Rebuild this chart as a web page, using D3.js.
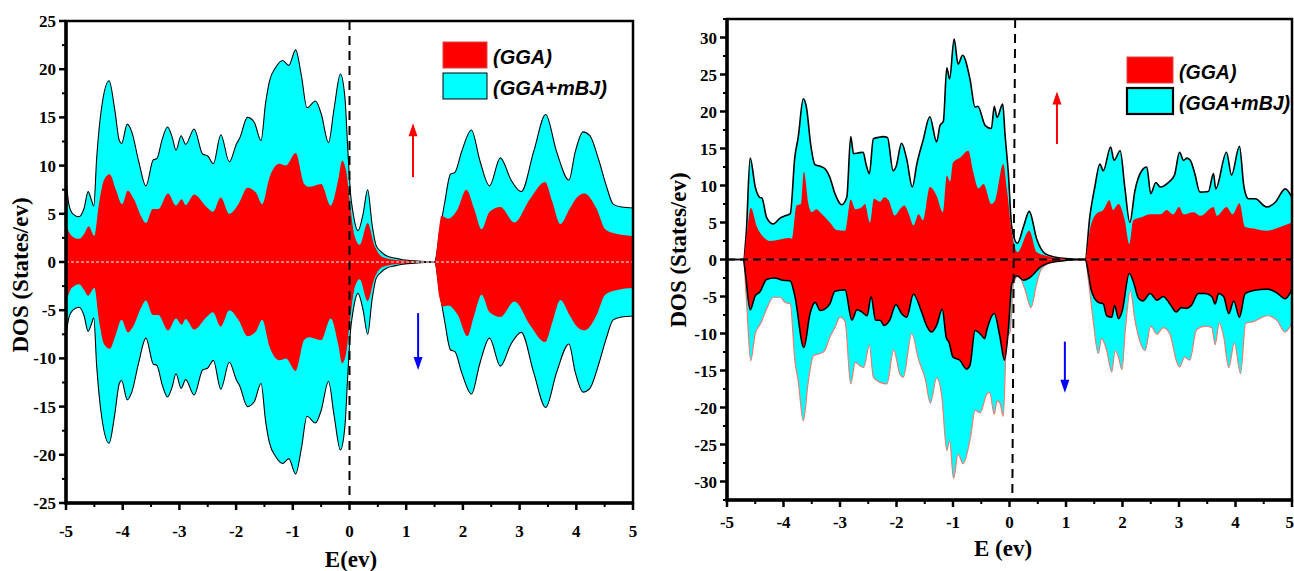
<!DOCTYPE html>
<html>
<head>
<meta charset="utf-8">
<script src="https://cdn.jsdelivr.net/npm/d3@7"></script>
<style>
  html, body { margin: 0; padding: 0; background: #fff; }
  svg { display: block; }
</style>
</head>
<body>
<svg id="chart" width="1294" height="571"></svg>
<script>
// ---------------- DATA ----------------
const xTicks = [-5, -4, -3, -2, -1, 0, 1, 2, 3, 4, 5];
const leftYTicks = [-25, -20, -15, -10, -5, 0, 5, 10, 15, 20, 25];
const rightYTicks = [-30, -25, -20, -15, -10, -5, 0, 5, 10, 15, 20, 25, 30];
const legendLabels = ["(GGA)", "(GGA+mBJ)"];

// Left panel: [E (eV), DOS]
const L_up_mBJ = [[-5,8.6],[-4.95,6.0],[-4.88,5.0],[-4.77,4.7],[-4.68,5.6],[-4.61,7.3],[-4.55,6.4],[-4.51,5.8],[-4.46,10.7],[-4.37,16.1],[-4.24,18.8],[-4.14,15.8],[-4.06,12.6],[-4.02,12.3],[-3.92,14.3],[-3.84,13.5],[-3.72,10.5],[-3.59,7.9],[-3.46,10.6],[-3.40,10.7],[-3.30,12.8],[-3.21,14.0],[-3.13,13.0],[-3.06,11.6],[-2.97,13.1],[-2.89,12.2],[-2.74,13.8],[-2.59,11.2],[-2.50,11.0],[-2.40,10.2],[-2.27,13.2],[-2.12,10.4],[-1.99,12.3],[-1.94,12.8],[-1.80,15.0],[-1.68,14.5],[-1.56,12.6],[-1.48,16.5],[-1.41,18.8],[-1.30,20.2],[-1.18,20.9],[-1.07,20.4],[-0.95,22.0],[-0.85,19.4],[-0.75,16.0],[-0.60,16.7],[-0.50,15.4],[-0.37,12.4],[-0.27,16.0],[-0.16,19.5],[-0.08,17.0],[-0.03,11.7],[0.02,7.0],[0.06,5.2],[0.15,3.25],[0.24,5.0],[0.32,7.5],[0.40,3.8],[0.47,1.7],[0.55,1.1],[0.65,0.65],[0.80,0.4],[0.94,0.24],[1.20,0.1],[1.41,0.03],[1.50,0],[1.59,3.1],[1.68,6.2],[1.78,9.1],[1.86,9.3],[1.98,11.5],[2.15,13.7],[2.30,10.5],[2.47,7.9],[2.66,10.8],[2.85,8.5],[3.03,7.3],[3.25,11.5],[3.46,15.3],[3.65,11.5],[3.87,8.5],[3.98,11.4],[4.12,13.5],[4.24,13.1],[4.40,10.5],[4.53,7.9],[4.65,6.0],[4.80,5.7],[5.0,5.6]];
const L_up_GGA = [[-5,3.8],[-4.9,2.7],[-4.77,2.4],[-4.68,2.9],[-4.60,3.7],[-4.50,2.7],[-4.42,6.0],[-4.33,8.5],[-4.23,9.1],[-4.12,7.5],[-4.01,6.0],[-3.91,7.4],[-3.80,6.5],[-3.68,4.8],[-3.59,4.05],[-3.47,5.5],[-3.37,5.5],[-3.20,7.1],[-3.06,5.85],[-2.96,6.5],[-2.89,5.9],[-2.74,7.0],[-2.52,5.7],[-2.41,5.2],[-2.27,6.7],[-2.12,5.0],[-1.95,6.1],[-1.80,7.7],[-1.65,7.2],[-1.54,6.0],[-1.41,8.8],[-1.24,10.2],[-1.12,10.0],[-0.95,11.3],[-0.80,8.1],[-0.71,7.8],[-0.50,8.1],[-0.33,5.85],[-0.20,8.5],[-0.13,10.5],[-0.06,9.5],[0.0,6.5],[0.09,2.7],[0.18,1.8],[0.32,4.05],[0.44,1.7],[0.59,0.5],[0.94,0.15],[1.50,0],[1.58,3.5],[1.62,4.8],[1.74,4.5],[1.91,5.5],[2.06,7.5],[2.20,5.5],[2.33,3.4],[2.47,5.2],[2.66,5.7],[2.91,4.1],[3.18,6.5],[3.45,8.3],[3.58,6.2],[3.72,3.95],[3.88,5.5],[4.01,6.7],[4.14,7.1],[4.36,5.5],[4.51,3.4],[4.72,2.9],[5.0,2.7]];
const L_dn_mBJ = [[-5,-7.7],[-4.95,-5.8],[-4.88,-5.0],[-4.77,-4.7],[-4.68,-5.6],[-4.61,-7.2],[-4.55,-6.4],[-4.51,-5.8],[-4.46,-10.7],[-4.37,-16.1],[-4.24,-18.8],[-4.14,-15.8],[-4.06,-12.6],[-4.02,-12.3],[-3.92,-14.3],[-3.84,-13.5],[-3.72,-10.5],[-3.59,-7.9],[-3.46,-10.6],[-3.40,-10.7],[-3.30,-12.8],[-3.21,-14.0],[-3.13,-13.0],[-3.06,-11.6],[-2.97,-13.1],[-2.89,-12.2],[-2.74,-13.8],[-2.59,-11.2],[-2.50,-11.0],[-2.40,-10.2],[-2.27,-13.2],[-2.12,-10.4],[-1.99,-12.3],[-1.94,-12.8],[-1.80,-15.0],[-1.68,-14.5],[-1.56,-12.6],[-1.48,-16.5],[-1.41,-18.8],[-1.30,-20.2],[-1.18,-20.9],[-1.07,-20.4],[-0.95,-22.0],[-0.85,-19.4],[-0.75,-16.0],[-0.60,-16.7],[-0.50,-15.4],[-0.37,-12.4],[-0.27,-16.0],[-0.16,-19.5],[-0.08,-17.0],[-0.03,-11.7],[0.02,-7.0],[0.06,-5.2],[0.15,-3.25],[0.24,-5.0],[0.32,-7.5],[0.40,-3.8],[0.47,-1.7],[0.55,-1.1],[0.65,-0.65],[0.80,-0.4],[0.94,-0.24],[1.20,-0.1],[1.41,-0.03],[1.50,0],[1.59,-3.1],[1.68,-6.2],[1.78,-9.1],[1.86,-9.3],[1.98,-11.5],[2.15,-13.7],[2.30,-10.5],[2.47,-7.9],[2.66,-10.8],[2.85,-8.5],[3.03,-7.3],[3.25,-11.5],[3.46,-15.1],[3.65,-11.5],[3.87,-8.5],[3.98,-11.4],[4.12,-13.5],[4.24,-13.1],[4.40,-10.5],[4.53,-7.9],[4.65,-6.0],[4.80,-5.7],[5.0,-5.6]];
const L_dn_GGA = [[-5,-4.2],[-4.9,-2.7],[-4.77,-2.3],[-4.68,-2.9],[-4.61,-3.5],[-4.50,-2.7],[-4.42,-6.0],[-4.33,-8.5],[-4.23,-9.0],[-4.12,-7.5],[-4.02,-6.0],[-3.91,-7.3],[-3.80,-6.5],[-3.68,-4.8],[-3.59,-4.0],[-3.47,-5.5],[-3.37,-5.5],[-3.20,-7.1],[-3.06,-5.85],[-2.96,-6.5],[-2.89,-5.9],[-2.74,-7.0],[-2.52,-5.7],[-2.41,-5.2],[-2.27,-6.7],[-2.12,-5.0],[-1.95,-6.1],[-1.80,-7.7],[-1.65,-7.2],[-1.54,-6.0],[-1.41,-8.8],[-1.24,-10.2],[-1.12,-10.0],[-0.95,-11.3],[-0.80,-8.1],[-0.71,-7.8],[-0.50,-8.1],[-0.33,-5.85],[-0.20,-8.5],[-0.13,-10.5],[-0.06,-9.5],[0.0,-6.5],[0.09,-2.7],[0.18,-1.8],[0.32,-4.05],[0.44,-1.7],[0.59,-0.5],[0.94,-0.15],[1.50,0],[1.58,-3.5],[1.65,-4.6],[1.74,-4.5],[1.91,-5.5],[2.08,-7.7],[2.20,-5.5],[2.33,-3.4],[2.47,-5.2],[2.66,-5.7],[2.91,-4.1],[3.18,-6.5],[3.45,-8.3],[3.58,-6.2],[3.72,-3.95],[3.88,-5.5],[4.01,-6.7],[4.14,-7.1],[4.36,-5.5],[4.51,-3.4],[4.72,-2.9],[5.0,-2.7]];

// Right panel: [E (eV), DOS]
const R_up_mBJ = [[-5,0],[-4.71,0],[-4.66,3.5],[-4.59,13.7],[-4.50,9.8],[-4.42,8.4],[-4.38,8.3],[-4.30,5.7],[-4.18,4.8],[-4.06,5.6],[-3.97,5.9],[-3.88,6.2],[-3.80,13.8],[-3.74,16.5],[-3.65,21.7],[-3.59,20.4],[-3.52,15.6],[-3.44,12.8],[-3.35,12.6],[-3.27,12.3],[-3.18,11.1],[-3.09,8.9],[-2.97,7.4],[-2.88,8.4],[-2.81,16.6],[-2.76,14.3],[-2.68,14.4],[-2.59,14.5],[-2.54,12.9],[-2.48,11.6],[-2.41,16.3],[-2.32,16.5],[-2.24,16.6],[-2.16,16.5],[-2.06,12.0],[-2.01,12.5],[-1.91,15.7],[-1.82,13.6],[-1.72,9.8],[-1.64,12.9],[-1.53,16.1],[-1.41,19.3],[-1.29,15.9],[-1.23,18.1],[-1.17,18.7],[-1.11,25.9],[-1.06,24.4],[-0.98,29.8],[-0.91,26.4],[-0.83,27.6],[-0.70,24.4],[-0.61,20.6],[-0.56,20.7],[-0.43,18.1],[-0.32,17.7],[-0.27,20.7],[-0.22,19.2],[-0.12,21.0],[-0.08,17.0],[-0.02,11.6],[0.04,4.4],[0.14,2.2],[0.25,4.5],[0.35,6.5],[0.48,2.8],[0.63,0.8],[0.89,0.2],[1.34,0],[1.42,5.7],[1.51,9.8],[1.60,12.9],[1.66,12.0],[1.79,15.2],[1.85,13.4],[1.96,14.7],[2.04,9.8],[2.13,5.0],[2.22,9.3],[2.34,12.0],[2.43,12.5],[2.50,8.9],[2.59,10.4],[2.67,9.8],[2.81,10.4],[2.92,11.4],[3.01,14.5],[3.08,13.4],[3.14,13.7],[3.20,13.4],[3.28,11.6],[3.37,9.1],[3.52,9.2],[3.61,11.6],[3.65,9.55],[3.84,14.5],[3.93,11.4],[4.07,15.3],[4.15,9.8],[4.23,8.2],[4.35,8.2],[4.55,7.1],[4.70,7.7],[4.88,9.55],[5.0,8.4]];
const R_up_GGA = [[-5,0],[-4.71,0],[-4.65,3.5],[-4.58,7.0],[-4.47,4.4],[-4.35,3.0],[-4.24,2.5],[-4.06,2.7],[-3.91,2.9],[-3.85,2.8],[-3.77,7.3],[-3.69,7.5],[-3.64,11.9],[-3.56,7.5],[-3.50,6.4],[-3.42,6.8],[-3.33,6.2],[-3.18,5.0],[-3.06,4.0],[-2.91,3.9],[-2.81,8.1],[-2.73,6.8],[-2.61,7.1],[-2.56,7.5],[-2.47,5.0],[-2.40,8.2],[-2.29,7.8],[-2.22,8.4],[-2.14,8.0],[-2.03,5.95],[-1.94,6.8],[-1.86,7.3],[-1.78,6.1],[-1.70,4.6],[-1.61,6.1],[-1.53,5.3],[-1.41,9.8],[-1.29,8.6],[-1.18,6.4],[-1.11,11.35],[-1.05,10.5],[-1.00,13.1],[-0.87,13.8],[-0.73,14.7],[-0.64,11.8],[-0.55,9.6],[-0.46,10.2],[-0.32,7.5],[-0.26,7.9],[-0.11,12.9],[-0.05,9.8],[0.04,3.7],[0.14,1.0],[0.35,3.9],[0.48,1.0],[0.65,0.5],[0.89,0.15],[1.34,0],[1.42,3.9],[1.54,6.2],[1.66,6.7],[1.77,8.0],[1.83,6.7],[1.93,7.5],[2.04,5.3],[2.12,2.1],[2.19,5.3],[2.34,5.7],[2.49,6.1],[2.67,6.1],[2.78,6.7],[2.90,6.1],[3.00,7.1],[3.08,6.1],[3.26,6.4],[3.38,5.9],[3.61,7.1],[3.67,5.9],[3.84,7.1],[3.95,6.1],[4.07,7.6],[4.17,4.4],[4.32,4.2],[4.55,3.9],[4.79,4.4],[5.0,5.0]];
const R_dn_mBJ = [[-5,0],[-4.71,0],[-4.66,-5.0],[-4.58,-13.7],[-4.50,-10.0],[-4.44,-9.1],[-4.39,-8.4],[-4.30,-6.7],[-4.18,-5.1],[-4.06,-5.1],[-3.97,-5.8],[-3.88,-6.0],[-3.80,-13.6],[-3.74,-16.4],[-3.65,-21.8],[-3.56,-16.4],[-3.47,-13.0],[-3.35,-12.7],[-3.27,-12.3],[-3.18,-10.5],[-3.09,-9.2],[-3.00,-7.8],[-2.91,-8.4],[-2.81,-16.8],[-2.73,-13.9],[-2.64,-14.4],[-2.58,-14.6],[-2.48,-11.6],[-2.41,-15.9],[-2.29,-16.6],[-2.17,-16.8],[-2.05,-12.2],[-1.94,-15.5],[-1.88,-15.9],[-1.73,-10.0],[-1.61,-13.5],[-1.49,-16.2],[-1.40,-19.4],[-1.29,-16.0],[-1.20,-18.4],[-1.11,-25.8],[-1.06,-24.5],[-0.99,-29.6],[-0.91,-26.3],[-0.82,-27.6],[-0.69,-24.0],[-0.61,-20.4],[-0.52,-20.7],[-0.40,-18.2],[-0.35,-18.0],[-0.27,-20.9],[-0.22,-19.1],[-0.17,-19.4],[-0.11,-21.2],[-0.05,-10.5],[0.01,-9.8],[0.07,-3.3],[0.16,-2.2],[0.28,-4.2],[0.38,-6.5],[0.48,-3.3],[0.57,-1.2],[0.80,-0.3],[1.34,0],[1.40,-3.0],[1.48,-8.2],[1.57,-12.7],[1.63,-10.7],[1.72,-12.3],[1.81,-15.2],[1.87,-12.3],[1.93,-13.2],[1.99,-14.9],[2.05,-9.5],[2.14,-4.2],[2.22,-8.2],[2.31,-11.1],[2.40,-12.3],[2.50,-9.0],[2.61,-10.1],[2.72,-9.2],[2.84,-10.1],[2.95,-13.6],[3.01,-14.5],[3.10,-13.2],[3.19,-13.6],[3.31,-9.5],[3.46,-9.0],[3.58,-9.2],[3.64,-11.5],[3.71,-8.6],[3.79,-10.4],[3.88,-14.6],[3.98,-11.3],[4.09,-15.4],[4.18,-8.6],[4.32,-8.4],[4.56,-7.6],[4.73,-8.2],[4.88,-9.8],[5.0,-8.5]];
const R_dn_GGA = [[-5,0],[-4.71,0],[-4.68,-1.5],[-4.59,-6.8],[-4.50,-4.9],[-4.42,-4.4],[-4.30,-2.7],[-4.16,-2.5],[-4.01,-2.8],[-3.88,-2.9],[-3.80,-4.9],[-3.64,-11.9],[-3.53,-7.3],[-3.44,-5.8],[-3.35,-6.9],[-3.27,-6.7],[-3.18,-6.0],[-3.09,-4.3],[-2.91,-4.1],[-2.79,-8.2],[-2.70,-6.8],[-2.61,-7.1],[-2.52,-7.6],[-2.45,-5.0],[-2.37,-8.2],[-2.29,-8.2],[-2.22,-8.9],[-2.12,-8.2],[-2.01,-6.1],[-1.91,-7.3],[-1.82,-7.8],[-1.70,-4.7],[-1.56,-7.0],[-1.47,-8.9],[-1.38,-9.8],[-1.29,-8.9],[-1.19,-6.7],[-1.12,-10.5],[-1.07,-11.2],[-1.00,-13.2],[-0.88,-13.6],[-0.76,-14.8],[-0.70,-14.3],[-0.61,-9.6],[-0.50,-10.2],[-0.44,-10.7],[-0.40,-9.5],[-0.27,-7.3],[-0.17,-10.4],[-0.09,-13.6],[-0.02,-9.5],[0.04,-3.3],[0.13,-2.2],[0.25,-2.8],[0.35,-2.5],[0.55,-1.0],[0.80,-0.3],[1.34,0],[1.40,-2.0],[1.45,-4.2],[1.57,-5.8],[1.66,-6.0],[1.72,-7.6],[1.81,-7.8],[1.86,-6.2],[1.93,-8.0],[1.99,-7.1],[2.12,-1.9],[2.20,-3.2],[2.28,-5.2],[2.36,-5.6],[2.49,-4.6],[2.61,-5.5],[2.72,-5.0],[2.84,-6.0],[2.95,-7.1],[3.04,-6.5],[3.13,-6.6],[3.22,-6.2],[3.34,-4.6],[3.46,-4.6],[3.58,-5.0],[3.64,-6.0],[3.70,-4.6],[3.79,-5.0],[3.88,-7.3],[3.97,-5.6],[4.07,-7.8],[4.17,-4.6],[4.32,-4.2],[4.56,-4.0],[4.73,-4.5],[4.88,-5.3],[5.0,-4.0]];

// spin arrows: [E, from, to]
const L_arrowUp = [1.12, 8.8, 14.4];
const L_arrowDn = [1.21, -5.3, -11.2];
const R_arrowUp = [0.84, 15.6, 22.7];
const R_arrowDn = [0.98, -11.1, -18.0];

// ---------------- DRAW ----------------
const svg = d3.select("#chart");
const RED = "#ff0000", CYAN = "#00ffff";
const serif = "'Liberation Serif', 'Times New Roman', serif";
const sans = "'Liberation Sans', Arial, sans-serif";

function drawPanel(cfg) {
  const x = d3.scaleLinear().domain([-5, 5]).range([cfg.x0, cfg.x1]);
  const y = d3.scaleLinear().domain(cfg.yDomain).range([cfg.y1, cfg.y0]);
  const g = svg.append("g");
  const clipId = "clip" + cfg.id;
  svg.append("clipPath").attr("id", clipId).append("rect")
    .attr("x", cfg.x0).attr("y", cfg.y0).attr("width", cfg.x1 - cfg.x0).attr("height", cfg.y1 - cfg.y0);
  const plot = g.append("g").attr("clip-path", `url(#${clipId})`);
  const curve = cfg.curve;
  const area = d3.area().x(d => x(d[0])).y0(y(0)).y1(d => y(d[1])).curve(curve);
  const line = d3.line().x(d => x(d[0])).y(d => y(d[1])).curve(curve);

  // cyan (GGA+mBJ) behind, red (GGA) in front
  [cfg.upMBJ, cfg.dnMBJ].forEach(s => plot.append("path").attr("d", area(s)).attr("fill", CYAN));
  plot.append("path").attr("d", line(cfg.upMBJ)).attr("fill", "none").attr("stroke", "#000").attr("stroke-width", cfg.upLineW);
  plot.append("path").attr("d", line(cfg.dnMBJ)).attr("fill", "none").attr("stroke", cfg.dnMBJStroke).attr("stroke-width", cfg.dnMBJW);
  [cfg.upGGA, cfg.dnGGA].forEach(s => plot.append("path").attr("d", area(s)).attr("fill", RED));
  if (cfg.dnGGAStroke) {
    plot.append("path").attr("d", line(cfg.dnGGA)).attr("fill", "none").attr("stroke", cfg.dnGGAStroke).attr("stroke-width", 1.6);
  }
  // zero line
  plot.append("line").attr("x1", cfg.x0).attr("x2", cfg.x1).attr("y1", y(0)).attr("y2", y(0))
    .attr("stroke", cfg.zeroColor).attr("stroke-width", cfg.zeroW).attr("stroke-dasharray", cfg.zeroDash);
  // Fermi level
  g.append("line").attr("x1", x(cfg.fermiTop)).attr("x2", x(cfg.fermiBot)).attr("y1", cfg.y0).attr("y2", cfg.y1)
    .attr("stroke", "#000").attr("stroke-width", 2).attr("stroke-dasharray", "9,6");

  // ticks
  const ax = g.append("g").attr("stroke", "#000");
  xTicks.forEach(t => ax.append("line").attr("x1", x(t)).attr("x2", x(t)).attr("y1", cfg.y1).attr("y2", cfg.y1 + 7).attr("stroke-width", 2.5));
  d3.range(-4.5, 5, 1).forEach(t => ax.append("line").attr("x1", x(t)).attr("x2", x(t)).attr("y1", cfg.y1).attr("y2", cfg.y1 + 4).attr("stroke-width", 2));
  cfg.yTicks.forEach(t => ax.append("line").attr("x1", cfg.x0 - 7).attr("x2", cfg.x0).attr("y1", y(t)).attr("y2", y(t)).attr("stroke-width", 2.5));
  const yMin = cfg.yTicks[0], yMax = cfg.yTicks[cfg.yTicks.length - 1];
  d3.range(yMin - 2.5, yMax + 3, 5).filter(t => t >= cfg.yDomain[0] && t <= cfg.yDomain[1])
    .forEach(t => ax.append("line").attr("x1", cfg.x0 - 4).attr("x2", cfg.x0).attr("y1", y(t)).attr("y2", y(t)).attr("stroke-width", 2));

  // frame
  g.append("rect").attr("x", cfg.x0).attr("y", cfg.y0).attr("width", cfg.x1 - cfg.x0).attr("height", cfg.y1 - cfg.y0)
    .attr("fill", "none").attr("stroke", "#000").attr("stroke-width", 2.5);
  g.append("line").attr("x1", cfg.x0).attr("x2", cfg.x0).attr("y1", cfg.y0 - 1).attr("y2", cfg.y1 + 1.5).attr("stroke", "#000").attr("stroke-width", 3.5);
  g.append("line").attr("x1", cfg.x0 - 1.5).attr("x2", cfg.x1 + 1).attr("y1", cfg.y1).attr("y2", cfg.y1).attr("stroke", "#000").attr("stroke-width", 3.5);

  // tick labels
  g.append("g").selectAll("text").data(xTicks).join("text")
    .attr("x", d => x(d) + (cfg.lastLabelEnd && d === 5 ? 2 : 0)).attr("y", cfg.y1 + cfg.xLabelDy)
    .attr("text-anchor", d => (cfg.lastLabelEnd && d === 5) ? "end" : "middle")
    .attr("font-family", serif).attr("font-weight", "bold").attr("font-size", 17).text(d => d);
  g.append("g").selectAll("text").data(cfg.yTicks).join("text")
    .attr("x", cfg.x0 - 10).attr("y", d => y(d) + 6).attr("text-anchor", "end")
    .attr("font-family", serif).attr("font-weight", "bold").attr("font-size", 17).text(d => d);

  // axis titles
  g.append("text").attr("x", cfg.xTitleX).attr("y", cfg.xTitleY).attr("text-anchor", "middle")
    .attr("font-family", serif).attr("font-weight", "bold").attr("font-size", 23).text(cfg.xTitle);
  g.append("text").attr("transform", `translate(${cfg.yTitleX},${cfg.yTitleY}) rotate(-90)`)
    .attr("text-anchor", "middle").attr("font-family", serif).attr("font-weight", "bold").attr("font-size", 23)
    .text("DOS (States/ev)");

  // arrows
  function arrow(a, color) {
    const xa = x(a[0]), ya = y(a[1]), yb = y(a[2]);
    const dir = yb < ya ? -1 : 1;
    g.append("line").attr("x1", xa).attr("x2", xa).attr("y1", ya).attr("y2", yb - dir * 10)
      .attr("stroke", color).attr("stroke-width", 2);
    g.append("path").attr("d", `M${xa},${yb} L${xa - 4.5},${yb - dir * 13} L${xa + 4.5},${yb - dir * 13} Z`).attr("fill", color);
  }
  arrow(cfg.arrowUp, "#ff0000");
  arrow(cfg.arrowDn, "#0000ff");

  // legend
  const L = cfg.legend;
  const lg = g.append("g");
  lg.append("rect").attr("x", L.x).attr("y", L.y).attr("width", L.w).attr("height", L.h)
    .attr("fill", RED).attr("stroke", "#d44").attr("stroke-width", 1);
  lg.append("rect").attr("x", L.x).attr("y", L.y + L.gap).attr("width", L.w).attr("height", L.h)
    .attr("fill", CYAN).attr("stroke", "#000").attr("stroke-width", L.cyanStroke);
  legendLabels.forEach((lab, i) => {
    lg.append("text").attr("x", L.x + L.w + 6).attr("y", L.y + i * L.gap + L.h - 4)
      .attr("font-family", sans).attr("font-weight", "bold").attr("font-style", "italic")
      .attr("font-size", L.fs).attr("fill", "#000").text(lab);
  });
}

drawPanel({
  id: "L", x0: 66, x1: 633, y0: 21, y1: 503, yDomain: [-25, 25], yTicks: leftYTicks,
  upMBJ: L_up_mBJ, dnMBJ: L_dn_mBJ, upGGA: L_up_GGA, dnGGA: L_dn_GGA,
  curve: d3.curveMonotoneX, upLineW: 1.1, dnMBJStroke: "#000", dnMBJW: 1.1, dnGGAStroke: null,
  zeroColor: "#fff", zeroW: 1, zeroDash: "3,2", fermiTop: 0, fermiBot: 0,
  xLabelDy: 34, xTitle: "E(ev)", xTitleX: 351, xTitleY: 567, yTitleX: 28, yTitleY: 275,
  arrowUp: L_arrowUp, arrowDn: L_arrowDn, lastLabelEnd: false,
  legend: { x: 443, y: 42, w: 44, h: 26, gap: 31, fs: 20, cyanStroke: 1 }
});

drawPanel({
  id: "R", x0: 727, x1: 1292, y0: 19, y1: 500, yDomain: [-32.5, 32.5], yTicks: rightYTicks,
  upMBJ: R_up_mBJ, dnMBJ: R_dn_mBJ, upGGA: R_up_GGA, dnGGA: R_dn_GGA,
  curve: d3.curveMonotoneX, upLineW: 1.6, dnMBJStroke: "#f07a72", dnMBJW: 1.2, dnGGAStroke: "#000",
  zeroColor: "#000", zeroW: 2, zeroDash: "8,5", fermiTop: 0.1, fermiBot: 0.05,
  xLabelDy: 28, xTitle: "E (ev)", xTitleX: 1003, xTitleY: 556, yTitleX: 686, yTitleY: 250,
  arrowUp: R_arrowUp, arrowDn: R_arrowDn, lastLabelEnd: true,
  legend: { x: 1127, y: 57, w: 46, h: 26, gap: 31, fs: 19.5, cyanStroke: 2.2 }
});
</script>
</body>
</html>
